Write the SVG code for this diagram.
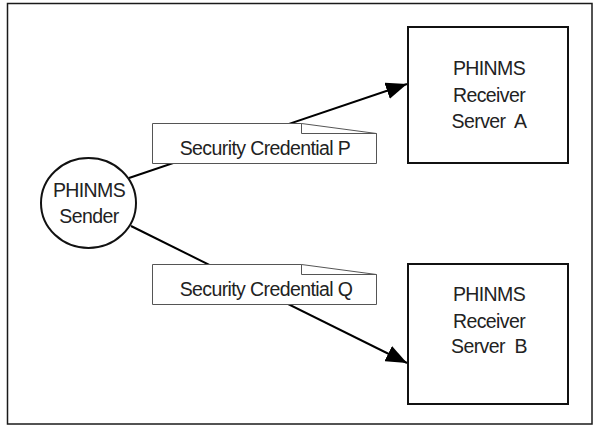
<svg xmlns="http://www.w3.org/2000/svg" width="593" height="425" viewBox="0 0 593 425">
  <defs>
    <style>
      .frame { fill: #ffffff; stroke: #1a1a1a; stroke-width: 1.5; }
      .node { fill: #ffffff; stroke: #111111; stroke-width: 2; }
      .label { fill: #ffffff; stroke: #555555; stroke-width: 1; }
      .fold { fill: none; stroke: #555555; stroke-width: 1; }
      .edge { fill: none; stroke: #000000; stroke-width: 2; marker-end: url(#arrow); }
      text { font-family: "Liberation Sans", Arial, sans-serif; font-size: 19.5px; letter-spacing: -0.6px; fill: #222222; text-anchor: middle; white-space: pre; }
    </style>
    <marker id="arrow" markerUnits="userSpaceOnUse" markerWidth="21" markerHeight="17" refX="21" refY="8.5" orient="auto">
      <path d="M0,0 L21,8.5 L0,17 z" fill="#000000"/>
    </marker>
  </defs>

  <rect class="frame" x="7.5" y="3.5" width="584.5" height="420.5"/>

  <g id="connectors">
    <line class="edge" x1="129" y1="178" x2="407" y2="84"/>
    <line class="edge" x1="131" y1="226" x2="407" y2="363"/>
  </g>

  <g id="label-p">
    <path class="label" d="M152.5,123.5 L301.5,123.5 L376.5,133.5 L376.5,163.5 L152.5,163.5 Z"/>
    <path class="fold" d="M301.5,123.5 L301.5,133.5 L376.5,133.5"/>
    <text x="265" y="155">Security Credential P</text>
  </g>

  <g id="label-q">
    <path class="label" d="M152.5,264.5 L301.5,264.5 L376.5,274.5 L376.5,304.5 L152.5,304.5 Z"/>
    <path class="fold" d="M301.5,264.5 L301.5,274.5 L376.5,274.5"/>
    <text x="266" y="296">Security Credential Q</text>
  </g>

  <g id="sender">
    <ellipse class="node" cx="88.5" cy="203" rx="47.5" ry="45"/>
    <text x="89" y="197">PHINMS</text>
    <text x="89" y="223">Sender</text>
  </g>

  <g id="server-a">
    <rect class="node" x="408" y="27" width="160" height="136"/>
    <text x="489" y="75">PHINMS</text>
    <text x="489" y="101.5">Receiver</text>
    <text x="489" y="128">Server  A</text>
  </g>

  <g id="server-b">
    <rect class="node" x="408" y="264" width="160" height="140"/>
    <text x="489" y="301">PHINMS</text>
    <text x="489" y="327.5">Receiver</text>
    <text x="489" y="353">Server  B</text>
  </g>
</svg>
